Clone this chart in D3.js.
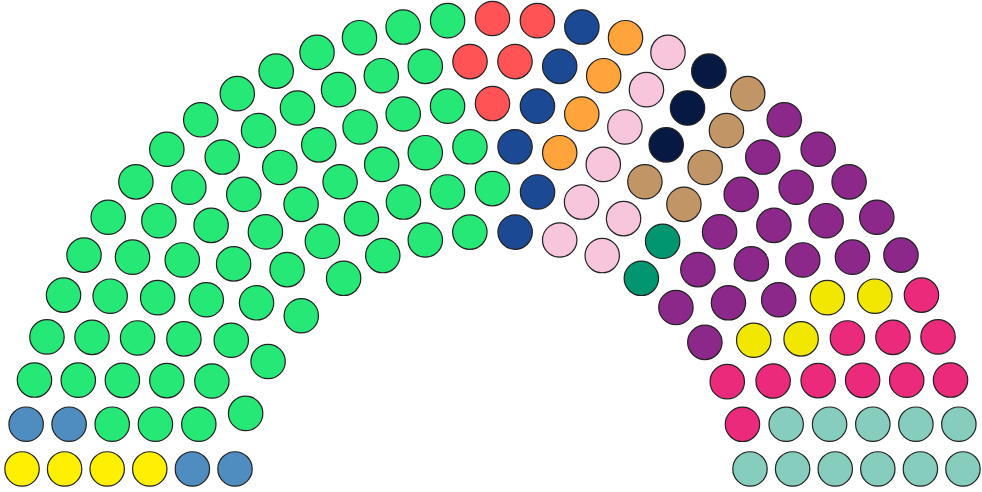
<!DOCTYPE html>
<html>
<head>
<meta charset="utf-8">
<script src="https://cdn.jsdelivr.net/npm/d3@7"></script>
<style>
  html, body { margin: 0; padding: 0; background: #ffffff; }
  svg { display: block; }
</style>
</head>
<body>
<svg id="chart" width="982" height="492"></svg>
<script>
// ---- data (parties in left-to-right order) ----
const parties = ["A", "B", "C", "D", "E", "F", "G", "H", "I", "J", "K", "L", "M", "N"];
const partyColors = ["#FFEF00", "#4F8DC0", "#26E876", "#FF5356", "#1B4994", "#FFA43B", "#F7C6DD",
                     "#061943", "#C29567", "#01966F", "#8B288A", "#F2E700", "#EC2A7B", "#86CDBD"];
// seats of each party in each arc, innermost arc first
const seatsByRow = [
  [0, 0, 1, 1, 1, 1],
  [1, 1, 0, 0, 1, 1],
  [7, 10, 11, 12, 12, 14],
  [0, 0, 0, 1, 2, 2],
  [1, 1, 1, 1, 1, 1],
  [0, 0, 1, 1, 1, 1],
  [2, 2, 1, 1, 1, 1],
  [0, 0, 0, 1, 1, 1],
  [0, 0, 2, 1, 1, 1],
  [1, 1, 0, 0, 0, 0],
  [2, 2, 3, 3, 4, 5],
  [0, 1, 1, 1, 1, 0],
  [2, 1, 1, 2, 2, 3],
  [1, 2, 2, 2, 2, 2]
];
const seatTotals = seatsByRow.map(r => d3.sum(r)); // 152 seats
// slot grid of each arc, innermost first
const rowSlots = [18, 21, 24, 27, 30, 33];

// ---- layout ----
const W = 982, H = 492;
const cx = 492.5, cy = 489.4;
const baseLift = 20.45;           // bottom seats sit this far above the arc centre
const seatR = 17.2;
const spreadSeats = 4;            // leftmost seats that absorb a row's spare slots

const rowIdx = d3.range(rowSlots.length);
const radius = d3.scaleLinear().domain([0, rowSlots.length - 1]).range([258.3, 470.9]);
const color = d3.scaleOrdinal().domain(parties).range(partyColors);

const seats = [];
rowIdx.forEach(ri => {
  const R = radius(ri);
  const m = rowSlots[ri];
  const alpha = Math.asin(baseLift / R);
  const angle = d3.scaleLinear().domain([0, m - 1]).range([alpha, Math.PI - alpha]);
  // list seats of this row left to right
  const rowSeats = [];
  parties.forEach((p, pi) => {
    for (let k = 0; k < seatsByRow[pi][ri]; k++) rowSeats.push(p);
  });
  const n = rowSeats.length;
  const spare = m - n;
  rowSeats.forEach((p, s) => {
    let u;
    if (spare > 0 && s <= spreadSeats) u = s * (spreadSeats + spare) / spreadSeats;
    else u = s + spare;
    const th = angle(u);
    seats.push({ party: p, x: cx - R * Math.cos(th), y: cy - R * Math.sin(th) });
  });
});

const svg = d3.select("#chart").attr("viewBox", `0 0 ${W} ${H}`);
svg.append("g")
  .selectAll("circle")
  .data(seats)
  .join("circle")
  .attr("cx", d => d.x)
  .attr("cy", d => d.y)
  .attr("r", seatR)
  .attr("fill", d => color(d.party))
  .attr("stroke", "#222222")
  .attr("stroke-width", 1.2);
</script>
</body>
</html>
